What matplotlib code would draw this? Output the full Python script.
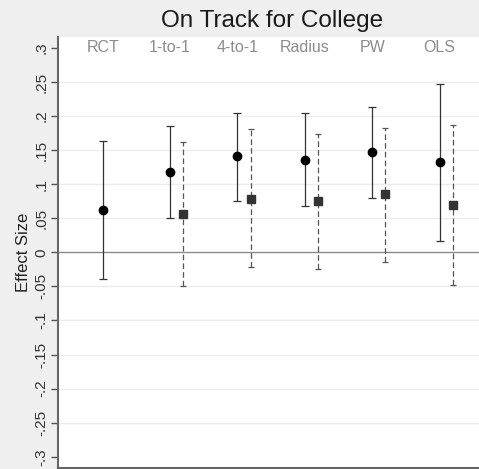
import numpy as np
import matplotlib
matplotlib.use("Agg")
import matplotlib.pyplot as plt

plt.rcParams['font.family'] = ['Liberation Sans', 'DejaVu Sans']

methods = ["RCT", "1-to-1", "4-to-1", "Radius", "PW", "OLS"]

# black circles (solid CIs)
est_a = [0.062, 0.118, 0.141, 0.136, 0.147, 0.132]
lo_a = [-0.039, 0.050, 0.076, 0.068, 0.080, 0.016]
hi_a = [0.163, 0.186, 0.205, 0.204, 0.214, 0.247]

# grey squares (dashed CIs), none for RCT
est_b = [0.056, 0.079, 0.075, 0.086, 0.070]
lo_b = [-0.050, -0.022, -0.025, -0.014, -0.048]
hi_b = [0.162, 0.181, 0.174, 0.183, 0.187]

yticks = [0.3, 0.25, 0.2, 0.15, 0.1, 0.05, 0, -0.05, -0.1, -0.15, -0.2, -0.25, -0.3]
ytick_labels = [".3", ".25", ".2", ".15", ".1", ".05", "0", "-.05", "-.1", "-.15", "-.2", "-.25", "-.3"]

bg = "#efefef"
fig = plt.figure(figsize=(4.79, 4.69), dpi=100, facecolor=bg)
ax = fig.add_axes([0.121, 0.003, 0.879, 0.918])
ax.set_facecolor("white")

xa = np.arange(1, len(methods) + 1)
xb = xa[1:] + 0.195

for y in yticks:
    if y in (0.3, -0.3):
        continue
    if y == 0:
        ax.axhline(0, color="#8a8a8a", lw=1.0, zorder=1)
    else:
        ax.axhline(y, color="#ececec", lw=1.0, zorder=0)

ea = ax.errorbar(xa, est_a, yerr=[np.array(est_a) - np.array(lo_a), np.array(hi_a) - np.array(est_a)],
                 fmt="o", color="black", ms=6, ecolor="#333333", elinewidth=0.9,
                 capsize=3, capthick=0.9, zorder=3)

eb = ax.errorbar(xb, est_b, yerr=[np.array(est_b) - np.array(lo_b), np.array(hi_b) - np.array(est_b)],
                 fmt="s", color="#333333", ms=5.8, ecolor="#555555", elinewidth=0.9,
                 capsize=2.2, capthick=0.9, zorder=3)
for lc in eb[2]:
    lc.set_linestyle((0, (4.5, 2.5)))

for x, m in zip(xa, methods):
    ax.text(x, 0.3, m, ha="center", va="center", fontsize=11.5, color="#8c8c8c")

ax.set_xlim(0.337, 6.583)
ax.set_ylim(-0.316, 0.316)
ax.set_xticks([])
ax.set_yticks(yticks)
ax.set_yticklabels(ytick_labels, rotation=90, va="center", fontsize=11, color="#333333")
ax.tick_params(axis="y", direction="out", length=5, width=1, color="#555555", pad=2)

for s in ("top", "right"):
    ax.spines[s].set_visible(False)
for s in ("left", "bottom"):
    ax.spines[s].set_color("#666666")
    ax.spines[s].set_linewidth(1.5)

ax.set_ylabel("Effect Size", fontsize=12, color="#222222", labelpad=2)
fig.text(0.568, 0.955, "On Track for College", ha="center", va="center", fontsize=17.5, color="#1a1a1a")

fig.savefig("out.png", dpi=100, facecolor=bg)
